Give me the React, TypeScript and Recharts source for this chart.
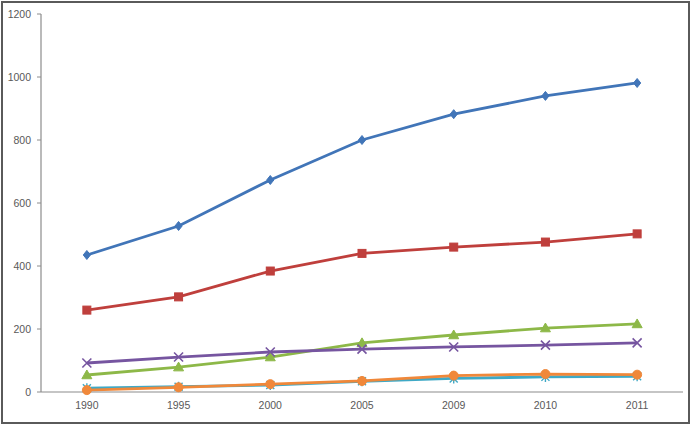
import React from "react";
import { LineChart, Line, XAxis, YAxis } from "recharts";

// Years along the category axis
const years = ["1990", "1995", "2000", "2005", "2009", "2010", "2011"];

// Series values, one list per line
const series1 = [435, 527, 673, 800, 882, 940, 981];
const series2 = [260, 302, 384, 440, 460, 476, 502];
const series3 = [54, 79, 111, 156, 181, 203, 216];
const series4 = [92, 111, 127, 136, 143, 149, 156];
const series5 = [12, 17, 22, 34, 43, 48, 50];
const series6 = [6, 15, 25, 35, 52, 57, 55];

const yTicks = [0, 200, 400, 600, 800, 1000, 1200];
// category boundaries for the small ticks between years
const boundaryTicks = [1, 2, 3, 4, 5, 6, 7];

const data = years.map((year, i) => ({
  year,
  s1: series1[i],
  s2: series2[i],
  s3: series3[i],
  s4: series4[i],
  s5: series5[i],
  s6: series6[i],
}));

const COLORS = {
  s1: "#4175b8",
  s2: "#bf3f3c",
  s3: "#8db848",
  s4: "#7655a0",
  s5: "#3fa9c6",
  s6: "#f0883a",
};

const Diamond = (props: any) => {
  const { cx, cy, stroke } = props;
  const r = 4.5;
  return (
    <path
      d={`M${cx},${cy - r} L${cx + r * 0.8},${cy} L${cx},${cy + r} L${cx - r * 0.8},${cy} Z`}
      fill={stroke}
      stroke={stroke}
    />
  );
};

const Square = (props: any) => {
  const { cx, cy, stroke } = props;
  const s = 8;
  return <rect x={cx - s / 2} y={cy - s / 2} width={s} height={s} fill={stroke} stroke={stroke} />;
};

const Triangle = (props: any) => {
  const { cx, cy, stroke } = props;
  const r = 5;
  return (
    <path
      d={`M${cx},${cy - r} L${cx + r},${cy + r * 0.75} L${cx - r},${cy + r * 0.75} Z`}
      fill={stroke}
      stroke={stroke}
    />
  );
};

const Cross = (props: any) => {
  const { cx, cy, stroke } = props;
  const r = 4.5;
  return (
    <path
      d={`M${cx - r},${cy - r} L${cx + r},${cy + r} M${cx - r},${cy + r} L${cx + r},${cy - r}`}
      stroke={stroke}
      strokeWidth={1.6}
      fill="none"
    />
  );
};

const Star = (props: any) => {
  const { cx, cy, stroke } = props;
  const r = 4;
  return (
    <path
      d={`M${cx - r},${cy - r} L${cx + r},${cy + r} M${cx - r},${cy + r} L${cx + r},${cy - r} M${cx},${cy - r - 1} L${cx},${cy + r + 1}`}
      stroke={stroke}
      strokeWidth={1.4}
      fill="none"
    />
  );
};

const Circle = (props: any) => {
  const { cx, cy, stroke } = props;
  return <circle cx={cx} cy={cy} r={4.5} fill={stroke} stroke={stroke} />;
};

const tickStyle = { fontSize: 10.5, fill: "#595959", fontFamily: "Liberation Sans, Arial, sans-serif" };

export default function App() {
  return (
    <div style={{ position: "absolute", left: 0, top: 0, width: 695, height: 435, background: "#fff" }}>
      <div
        style={{
          position: "absolute",
          left: 1,
          top: 1,
          width: 685,
          height: 419,
          border: "2px solid #5a5a5a",
          boxSizing: "content-box",
        }}
      />
      <div style={{ position: "absolute", left: 0, top: 0 }}>
        <LineChart width={695} height={435} data={data} margin={{ top: 14, right: 12, bottom: 18, left: 0 }}>
          <XAxis
            xAxisId="edges"
            type="number"
            domain={[0, 7]}
            ticks={boundaryTicks}
            tick={false}
            axisLine={false}
            tickLine={{ stroke: "#8c8c8c" }}
            tickSize={5}
            height={0}
            allowDataOverflow
          />
          <XAxis
            dataKey="year"
            scale="band"
            tick={tickStyle}
            tickLine={false}
            tickSize={5}
            tickMargin={5}
            axisLine={{ stroke: "#8c8c8c", strokeWidth: 1.2 }}
            height={25}
            interval={0}
          />
          <YAxis
            domain={[0, 1200]}
            ticks={yTicks}
            width={41}
            tick={tickStyle}
            tickSize={4}
            tickMargin={6}
            tickLine={{ stroke: "#8c8c8c" }}
            axisLine={{ stroke: "#8c8c8c", strokeWidth: 1.2 }}
          />
          <Line dataKey="s1" stroke={COLORS.s1} strokeWidth={2.8} dot={<Diamond />} isAnimationActive={false} />
          <Line dataKey="s2" stroke={COLORS.s2} strokeWidth={2.8} dot={<Square />} isAnimationActive={false} />
          <Line dataKey="s3" stroke={COLORS.s3} strokeWidth={2.8} dot={<Triangle />} isAnimationActive={false} />
          <Line dataKey="s4" stroke={COLORS.s4} strokeWidth={2.8} dot={<Cross />} isAnimationActive={false} />
          <Line dataKey="s5" stroke={COLORS.s5} strokeWidth={2.8} dot={<Star />} isAnimationActive={false} />
          <Line dataKey="s6" stroke={COLORS.s6} strokeWidth={2.8} dot={<Circle />} isAnimationActive={false} />
        </LineChart>
      </div>
    </div>
  );
}
